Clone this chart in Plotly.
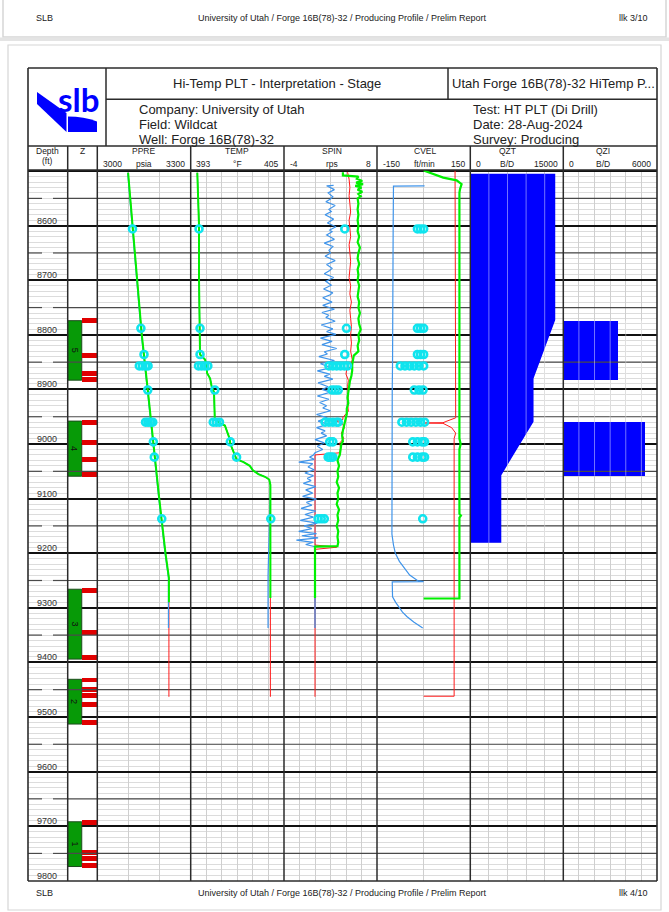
import plotly.graph_objects as go

# ------------------------------------------------------------------ page geometry (pixels)
W, H = 669, 912


def fx(p):
    return p / W


def fy(p):
    return 1.0 - p / H


# ------------------------------------------------------------------ depth frame
DEPTH_TOP = 8498.0
DEPTH_BOT = 9800.5
LOG_TOP_PX, LOG_BOT_PX = 170.0, 881.0
depth_labels = [8600, 8700, 8800, 8900, 9000, 9100, 9200, 9300, 9400, 9500, 9600, 9700, 9800]
half_marks = [8550, 8650, 8750, 8850, 8950, 9050, 9150, 9250, 9350, 9450, 9550, 9650, 9750]

# ------------------------------------------------------------------ completion (Z track)
zone_names = ["5", "4", "3", "2", "1"]
zone_top = [8774, 8958, 9266, 9431, 9692]
zone_bot = [8883, 9059, 9394, 9513, 9774]
perf_top = [8770, 8833, 8866, 8877, 8956, 8993, 9024, 9052, 9264, 9341, 9387,
            9428, 9446, 9457, 9472, 9505, 9689, 9744, 9755, 9767]
perf_bot = [8778, 8842, 8875, 8886, 8966, 9002, 9033, 9061, 9272, 9350, 9396,
            9436, 9454, 9466, 9481, 9515, 9698, 9753, 9763, 9777]

# ------------------------------------------------------------------ pressure (psia)
ppre_depth = [8503, 8600, 8700, 8800, 8900, 9000, 9100, 9200, 9245]
ppre_green = [3099, 3113, 3127, 3143, 3162, 3180, 3199, 3219, 3230]
ppre_green_end = 9290
ppre_blue_end = 9337
ppre_red_end = 9463

# ------------------------------------------------------------------ temperature (degF)
temp_depth = [8503, 8600, 8700, 8780, 8836, 8845, 8857, 8870, 8880, 8895, 8905,
              8955, 8962, 8966, 8990, 9000, 9015, 9024, 9028, 9033, 9040, 9048,
              9055, 9060, 9065, 9075]
temp_green = [393.85, 394.07, 394.07, 394.1, 394.2, 394.84, 395.06, 395.1, 395.5,
              395.7, 396.0, 396.1, 396.8, 397.4, 398.0, 398.1, 398.5, 398.7, 398.9,
              399.8, 400.6, 401.0, 401.7, 402.55, 403.1, 403.25]
temp_green_end = 9282
temp_blue_end = 9337
temp_red_end = 9463

# ------------------------------------------------------------------ spinner (rps)
spin_green_depth = [8502, 8508, 8510, 8514, 8518, 8521, 8524, 8527, 8530, 8534, 8538,
                    8542, 8546, 8550, 8560, 8570, 8580, 8590, 8600, 8610, 8620, 8630,
                    8640, 8650, 8660, 8670, 8680, 8690, 8700, 8710, 8720, 8730, 8740,
                    8750, 8760, 8770, 8780, 8790, 8800, 8810, 8820, 8830, 8838, 8845,
                    8855, 8865, 8875, 8885, 8895, 8905, 8915, 8925, 8935, 8945, 8955,
                    8965, 8975, 8985, 8995, 9000, 9010, 9020, 9026, 9030, 9040, 9050,
                    9060, 9070, 9080, 9090, 9100, 9110, 9120, 9130, 9140, 9150, 9160,
                    9170, 9180, 9187, 9188, 9282]
spin_green = [3.6, 3.6, 5.6, 5.4, 6.1, 5.3, 6.2, 5.2, 6.0, 5.5, 6.1,
              5.6, 5.9, 5.5, 5.6, 5.5, 5.6, 5.5, 5.6, 5.5, 5.7, 5.5,
              5.8, 5.6, 5.5, 5.7, 5.5, 5.6, 5.5, 5.7, 5.6, 5.5, 5.7,
              5.6, 5.8, 5.6, 5.7, 5.9, 5.6, 5.7, 5.5, 5.6, 5.0, 4.9,
              4.8, 4.8, 4.7, 4.5, 4.4, 4.3, 4.2, 4.3, 4.1, 4.1, 3.9,
              3.7, 3.6, 3.5, 3.6, 3.4, 3.3, 3.2, 3.0, 2.9, 3.1, 2.9,
              3.0, 2.8, 3.1, 2.9, 3.0, 2.8, 3.1, 2.9, 3.0, 2.8, 3.0,
              2.9, 3.0, 2.9, 0.0, 0.0]

spin_red_depth = [8502, 8515, 8530, 8545, 8560, 8575, 8590, 8605, 8620, 8635, 8650,
                  8665, 8680, 8695, 8710, 8725, 8740, 8755, 8770, 8785, 8800, 8815,
                  8830, 8845, 8858, 8862, 8872, 8883, 8895, 8910, 8925, 8940, 8951,
                  8955, 8957, 8962, 8970, 8980, 8990, 8998, 9008, 9016, 9018, 9020,
                  9185, 9189, 9193, 9463]
spin_red = [4.2, 4.4, 4.5, 4.4, 4.5, 4.6, 4.4, 4.5, 4.6, 4.4, 4.5,
            4.6, 4.5, 4.4, 4.6, 4.5, 4.7, 4.5, 4.6, 4.7, 4.6, 4.7,
            4.6, 4.8, 4.7, 4.1, 4.0, 4.3, 4.2, 4.3, 4.2, 4.3, 3.6,
            3.6, 2.6, 3.5, 3.8, 3.4, 3.7, 3.2, 3.3, 3.2, 1.7, 0.0,
            0.0, 2.8, 0.0, 0.0]

spin_blue_depth = [8526, 8527, 8534, 8540, 8547, 8551, 8556, 8563, 8570, 8574, 8580,
                   8588, 8595, 8602, 8608, 8611, 8617, 8625, 8632, 8638, 8645, 8650,
                   8656, 8664, 8671, 8678, 8682, 8688, 8695, 8702, 8709, 8716, 8723,
                   8727, 8732, 8740,
                   8746, 8753, 8759, 8764, 8768, 8775, 8782, 8789, 8794, 8799, 8806,
                   8812, 8818, 8825, 8831, 8835, 8840, 8847,
                   8853, 8860, 8866, 8872, 8876, 8881, 8888, 8895, 8900, 8905, 8912,
                   8918, 8924, 8930, 8934, 8939, 8946, 8952, 8958,
                   8964, 8970, 8976, 8980, 8985, 8992, 8998, 9004, 9010, 9016,
                   9020, 9024, 9028, 9033, 9036, 9042, 9047, 9053, 9058, 9063, 9067,
                   9072, 9078, 9084, 9090, 9096, 9101, 9107, 9112, 9118, 9123, 9129,
                   9134, 9140, 9145, 9150, 9155, 9160, 9164, 9168, 9172, 9176, 9180,
                   9184, 9188, 9337]
spin_blue = [2.4, 1.5, 2.5, 1.7, 2.3, 2.0, 1.4, 2.6, 1.8, 2.1, 1.3,
             2.4, 1.6, 2.7, 1.9, 2.2, 1.5, 2.5, 1.2, 2.3, 1.8, 2.0,
             1.3, 2.6, 1.5, 2.2, 1.9, 1.2, 2.4, 1.4, 2.1, 1.1, 2.3,
             1.9, 1.0, 2.2,
             1.0, 2.5, 0.9, 1.8, 1.4, 2.6, 0.8, 2.3, 1.5, 2.7, 0.7,
             2.2, 0.9, 2.8, 1.2, 1.6, 0.5, 2.5,
             0.7, 2.1, 0.3, 1.9, 1.2, 2.3, 0.4, 1.7, 0.9, 2.0, 0.3,
             1.8, 0.6, 1.5, 1.0, 2.0, 0.2, 1.6, 0.4,
             1.7, 0.2, 1.3, 0.8, 1.5, 0.0, 1.2, 0.3, 1.0, 0.0,
             -0.2, -0.7, -0.1, -2.1, -0.3, -0.9, -0.1, -1.3, -0.2, -1.0, -0.5,
             -1.5, 0.1, -1.2, -0.3, -1.6, 0.2, -1.1, -0.4, -1.8, 0.1, -1.3,
             -0.2, -1.9, 0.3, -1.4, -0.4, -2.1, 0.2, -1.7, 0.4, -2.4, -0.2,
             -1.2, 0.0, 0.0]
spin_zero_depth = [9017, 9337]
spin_zero = [0.0, 0.0]

# ------------------------------------------------------------------ cable velocity (ft/min)
cvel_green_depth = [8499, 8503, 8512, 8517, 8524, 8533, 8540, 8990, 9000, 9010, 9128,
                    9131, 9135, 9283, 9283]
cvel_green = [0, 20, 63, 106, 122, 117, 115, 115, 119, 115, 115, 120, 115, 115, 0]

cvel_red_depth = [8499, 8952, 8958, 8961, 8961.5, 8962, 8970, 8980, 8990, 9462, 9462]
cvel_red = [101, 103, 75, 62, 5, 62, 90, 103, 98, 98, 0]

cvel_blue_depth = [8527, 8527.5, 8600, 8700, 8800, 8850, 8900, 9000, 9100, 9150, 9165,
                   9185, 9200, 9215, 9225, 9240, 9250, 9252, 9252.5, 9265, 9280, 9290,
                   9298, 9308, 9316, 9326, 9337]
cvel_blue = [3, -97, -98, -98, -99, -100, -101, -101, -101, -102, -102,
             -97, -91, -78, -65, -45, -20, 0, -101, -101, -100, -90,
             -81, -68, -54, -32, -3]

# ------------------------------------------------------------------ flow profiles (B/D)
qzt_depth = [8505, 8773, 8880, 8959, 9057, 9181]
qzt_rate = [13700, 13700, 10200, 10200, 5000, 5000]
qzi_top = [8774, 8960]
qzi_bot = [8883, 9058]
qzi_rate = [3500, 5200]

# ------------------------------------------------------------------ station readings
ppre_st_depth = [8606, 8788, 8836, 8857, 8857, 8857, 8857, 8901, 8960, 8960, 8960, 8960,
                 8996, 9024, 9137]
ppre_st = [3113, 3140, 3150, 3135, 3145, 3155, 3163, 3162, 3155, 3163, 3171, 3178,
           3180, 3183, 3207]
temp_st_depth = [8606, 8788, 8836, 8857, 8857, 8857, 8857, 8901, 8960, 8960, 8960,
                 8996, 9024, 9137]
temp_st = [394.07, 394.2, 394.2, 394.0, 394.4, 394.8, 395.2, 396.1, 395.9, 396.3, 396.7,
           398.1, 398.9, 403.3]
spin_st_depth = [8606, 8788, 8836, 8857, 8857, 8857, 8857, 8857, 8857, 8901, 8901, 8901,
                 8960, 8960, 8960, 8960, 8960, 8996, 8996, 9024, 9024, 9024, 9137, 9137,
                 9137]
spin_st = [3.84, 4.06, 3.84, 1.8, 2.3, 2.8, 3.3, 3.8, 4.2, 2.2, 2.6, 3.0,
           1.3, 1.8, 2.3, 2.8, 3.0, 1.9, 2.3, 1.7, 2.0, 2.3, 0.4, 0.8, 1.2]
cvel_st_depth = [8606, 8606, 8606, 8788, 8788, 8788, 8836, 8836, 8836,
                 8857, 8857, 8857, 8857, 8857, 8857, 8901, 8901, 8901,
                 8960, 8960, 8960, 8960, 8960, 8960, 8996, 8996, 8996, 8996,
                 9024, 9024, 9024, 9024, 9137]
cvel_st = [-20, -10, 0, -20, -10, 0, -20, -10, 0,
           -75, -60, -45, -30, -15, 0, -30, -15, -2,
           -70, -55, -40, -25, -10, 3, -35, -20, -5, 3,
           -35, -20, -5, 3, -3]

# ------------------------------------------------------------------ styling
GREEN = "#00f000"
RED = "#ff1a1a"
BLUE = "#3f94ea"
CYAN = "#10e4ee"
FILL_BLUE = "#0000ff"
FONT = "Liberation Sans, Arial, sans-serif"
INK = "#222222"

tracks = [
    dict(key="DEPTH", l=28.0, r=67.7, rng=(0, 1), div=0),
    dict(key="Z", l=67.7, r=97.3, rng=(0, 1), div=0),
    dict(key="PPRE", l=97.3, r=190.7, rng=(3000, 3300), unit="psia", lo="3000", hi="3300", div=3),
    dict(key="TEMP", l=190.7, r=284.0, rng=(393, 405), unit="°F", lo="393", hi="405", div=6),
    dict(key="SPIN", l=284.0, r=377.0, rng=(-4, 8), unit="rps", lo="-4", hi="8", div=6),
    dict(key="CVEL", l=377.0, r=470.3, rng=(-150, 150), unit="ft/min", lo="-150", hi="150", div=2),
    dict(key="QZT", l=470.3, r=563.3, rng=(0, 15000), unit="B/D", lo="0", hi="15000", div=5),
    dict(key="QZI", l=563.3, r=657.0, rng=(0, 6000), unit="B/D", lo="0", hi="6000", div=6),
]
idx = {t["key"]: i + 1 for i, t in enumerate(tracks)}


def xr(i):
    return "x" if i == 1 else f"x{i}"


def yr(i):
    return "y" if i == 1 else f"y{i}"


fig = go.Figure()
layout = dict(
    width=W, height=H,
    margin=dict(l=0, r=0, t=0, b=0),
    paper_bgcolor="white", plot_bgcolor="rgba(0,0,0,0)",
    showlegend=False,
    font=dict(family=FONT, color=INK),
    barmode="overlay", bargap=0,
)

MAJOR = dict(showgrid=True, tick0=0, dtick=100, gridcolor="#111111", gridwidth=2)
MINOR = dict(dtick=10, tick0=0, showgrid=True, gridcolor="#dcdcdc", gridwidth=1)

for i, t in enumerate(tracks, 1):
    xname = "xaxis" if i == 1 else f"xaxis{i}"
    yname = "yaxis" if i == 1 else f"yaxis{i}"
    lo, hi = t["rng"]
    layout[xname] = dict(
        domain=[fx(t["l"]), fx(t["r"])], range=[lo, hi], anchor=yr(i),
        showgrid=t["div"] > 0, tick0=lo, dtick=(hi - lo) / max(t["div"], 1),
        gridcolor="#cfcfcf", gridwidth=1, zeroline=False,
        showticklabels=False, ticks="", showline=False, fixedrange=True,
    )
    yax = dict(
        domain=[fy(LOG_BOT_PX), fy(LOG_TOP_PX)], range=[DEPTH_BOT, DEPTH_TOP],
        anchor=xr(i), zeroline=False, showticklabels=False, ticks="",
        showline=False, fixedrange=True, **MAJOR,
    )
    if t["key"] != "Z":
        yax["minor"] = MINOR
    layout[yname] = yax

fig.update_layout(**layout)

shapes = []
annotations = []


def line_px(x0, y0, x1, y1, color="#333333", width=1.5):
    shapes.append(dict(type="line", xref="paper", yref="paper",
                       x0=fx(x0), y0=fy(y0), x1=fx(x1), y1=fy(y1),
                       line=dict(color=color, width=width), layer="above"))


def text_px(x, y, s, size=9, anchor="center", color=INK):
    annotations.append(dict(xref="paper", yref="paper", x=fx(x), y=fy(y), text=s,
                            showarrow=False, xanchor=anchor, yanchor="middle",
                            font=dict(size=size, color=color, family=FONT)))


def path_px(cmds, color):
    """Filled path from pixel coordinates; each command is (op, point, ...)."""
    parts = []
    for c in cmds:
        op, pts = c[0], c[1:]
        parts.append(op + " " + " ".join(f"{fx(a):.5f},{fy(b):.5f}" for a, b in pts))
    shapes.append(dict(type="path", xref="paper", yref="paper", path=" ".join(parts) + " Z",
                       fillcolor=color, line=dict(width=0), layer="above"))


def add_curve(key, xs, ys, color, width):
    i = idx[key]
    fig.add_trace(go.Scatter(x=xs, y=ys, xaxis=xr(i), yaxis=yr(i), mode="lines",
                             line=dict(color=color, width=width), hoverinfo="skip"))


def add_stations(key, xs, ys):
    i = idx[key]
    fig.add_trace(go.Scatter(x=xs, y=ys, xaxis=xr(i), yaxis=yr(i), mode="markers",
                             marker=dict(symbol="circle-open", size=7, color=CYAN,
                                         line=dict(width=2.6, color=CYAN)),
                             hoverinfo="skip", cliponaxis=False))


# ---------------- 50 ft lines in the data tracks (kept under the flow fills)
for i, t in enumerate(tracks[1:], 2):
    lo, hi = t["rng"]
    xs, ys = [], []
    for d in half_marks:
        xs += [lo, hi, None]
        ys += [d, d, None]
    fig.add_trace(go.Scatter(x=xs, y=ys, xaxis=xr(i), yaxis=yr(i), mode="lines",
                             line=dict(color="#4a4a4a", width=1.2), hoverinfo="skip"))

# depth column: split 50 ft marks and the depth labels
for d in half_marks:
    for a, b in ((28.0, 42.0), (53.0, 67.7)):
        shapes.append(dict(type="line", xref="paper", yref="y", x0=fx(a), x1=fx(b),
                           y0=d, y1=d, line=dict(color="#4a4a4a", width=1.2), layer="above"))
for d in depth_labels:
    annotations.append(dict(xref="paper", yref="y", x=fx(58.8), y=d, text=str(d),
                            showarrow=False, xanchor="right", yanchor="bottom", yshift=-2,
                            font=dict(size=9, color="#333333", family=FONT)))

# ---------------- Z track: zones and perforations
zi = idx["Z"]
fig.add_trace(go.Bar(
    orientation="h", x=[0.475] * len(zone_top), base=0,
    y=[(a + b) / 2 for a, b in zip(zone_top, zone_bot)],
    width=[b - a for a, b in zip(zone_top, zone_bot)],
    marker=dict(color="#079a07", line=dict(color="#1d4d1d", width=1)),
    xaxis=xr(zi), yaxis=yr(zi), hoverinfo="skip"))
fig.add_trace(go.Bar(
    orientation="h", x=[0.51] * len(perf_top), base=0.49,
    y=[(a + b) / 2 for a, b in zip(perf_top, perf_bot)],
    width=[b - a for a, b in zip(perf_top, perf_bot)],
    marker=dict(color="#e00000", line=dict(width=0)),
    xaxis=xr(zi), yaxis=yr(zi), hoverinfo="skip"))
for name, a, b in zip(zone_names, zone_top, zone_bot):
    annotations.append(dict(xref=xr(zi), yref=yr(zi), x=0.237, y=(a + b) / 2, text=name,
                            showarrow=False, textangle=90,
                            font=dict(size=9, color="#111111", family=FONT)))

# ---------------- PPRE
add_curve("PPRE", ppre_green + [ppre_green[-1]], ppre_depth + [ppre_red_end], RED, 1)
add_curve("PPRE", [v - 1.5 for v in ppre_green] + [ppre_green[-1] - 1.5],
          ppre_depth + [ppre_blue_end], BLUE, 1.2)
add_curve("PPRE", ppre_green + [ppre_green[-1]], ppre_depth + [ppre_green_end], GREEN, 2)
add_stations("PPRE", ppre_st, ppre_st_depth)

# ---------------- TEMP
add_curve("TEMP", temp_green + [temp_green[-1]], temp_depth + [temp_red_end], RED, 1)
add_curve("TEMP", temp_green + [temp_green[-1] - 0.3, temp_green[-1] - 0.3],
          temp_depth + [9240, temp_blue_end], BLUE, 1.2)
add_curve("TEMP", temp_green + [temp_green[-1]], temp_depth + [temp_green_end], GREEN, 2)
add_stations("TEMP", temp_st, temp_st_depth)

# ---------------- SPIN
add_curve("SPIN", spin_zero, spin_zero_depth, "#9cc2ee", 1.2)
add_curve("SPIN", spin_red, spin_red_depth, RED, 1)
add_curve("SPIN", spin_blue, spin_blue_depth, BLUE, 1.2)
add_curve("SPIN", spin_green, spin_green_depth, GREEN, 2.2)
add_stations("SPIN", spin_st, spin_st_depth)

# ---------------- CVEL
add_curve("CVEL", cvel_red, cvel_red_depth, RED, 1)
add_curve("CVEL", cvel_blue, cvel_blue_depth, BLUE, 1.2)
add_curve("CVEL", cvel_green, cvel_green_depth, GREEN, 2.2)
add_stations("CVEL", cvel_st, cvel_st_depth)

# ---------------- QZT / QZI
qi = idx["QZT"]
fig.add_trace(go.Scatter(x=[0] + qzt_rate + [0], y=[qzt_depth[0]] + qzt_depth + [qzt_depth[-1]],
                         xaxis=xr(qi), yaxis=yr(qi), mode="lines", fill="toself",
                         fillcolor=FILL_BLUE, line=dict(width=0, color=FILL_BLUE),
                         hoverinfo="skip"))
zi2 = idx["QZI"]
fig.add_trace(go.Bar(orientation="h", x=qzi_rate, base=0,
                     y=[(a + b) / 2 for a, b in zip(qzi_top, qzi_bot)],
                     width=[b - a for a, b in zip(qzi_top, qzi_bot)],
                     marker=dict(color=FILL_BLUE, line=dict(width=0)),
                     xaxis=xr(zi2), yaxis=yr(zi2), hoverinfo="skip"))
# vertical scale lines stay visible across the filled flow profiles
for key, top, bot in (("QZT", qzt_depth[0], qzt_depth[-1]), ("QZI", qzi_top[0], qzi_bot[-1])):
    i = idx[key]
    lo, hi = tracks[i - 1]["rng"]
    n = tracks[i - 1]["div"]
    for k in range(1, n):
        v = lo + (hi - lo) * k / n
        shapes.append(dict(type="line", xref=xr(i), yref=yr(i), x0=v, x1=v, y0=top, y1=bot,
                           line=dict(color="rgba(255,255,255,0.45)", width=1), layer="above"))

# ---------------- frame and track separators
FR = "#2b2b2b"
line_px(28, 68, 657, 68, FR, 1.6)
line_px(28, 881, 657, 881, FR, 1.6)
line_px(28, 68, 28, 881, FR, 1.6)
line_px(657, 68, 657, 881, FR, 1.6)
for t in tracks[1:]:
    line_px(t["l"], 146, t["l"], 881, FR, 1.5)
line_px(28, 146, 657, 146, FR, 1.5)
line_px(28, 170, 657, 170, FR, 1.5)
line_px(106, 99.3, 657, 99.3, FR, 1.5)
line_px(106, 68, 106, 146, FR, 1.5)
line_px(448, 68, 448, 99.3, FR, 1.5)

# ---------------- header texts
text_px(277, 84, "Hi-Temp PLT - Interpretation - Stage", size=13)
text_px(450, 84, "Utah Forge 16B(78)-32 HiTemp P...", size=13, anchor="left")
for k, s in enumerate(["Company: University of Utah", "Field: Wildcat", "Well: Forge 16B(78)-32"]):
    text_px(136.5, 110 + 14.6 * k, s, size=13, anchor="left")
for k, s in enumerate(["Test: HT PLT (Di Drill)", "Date: 28-Aug-2024", "Survey: Producing"]):
    text_px(470.5, 110 + 14.6 * k, s, size=13, anchor="left")

text_px(47.5, 151, "Depth", size=8.5)
text_px(47.5, 161, "(ft)", size=8.5)
text_px(82, 151, "Z", size=8.5)


def label_w(s, size=8.5):
    return sum(0.333 if c == "-" else 0.556 for c in s) * size


for t in tracks[2:]:
    left = t["l"] + 3.6
    right = t["r"] - 3.8
    mid = (left + label_w(t["lo"]) + right - label_w(t["hi"])) / 2
    text_px(mid, 151, t["key"], size=8.5)
    text_px(mid, 164, t["unit"], size=8.5)
    text_px(left, 164, t["lo"], size=8.5, anchor="left")
    text_px(right, 164, t["hi"], size=8.5, anchor="right")

# ---------------- logo
path_px([("M", (37, 92)), ("L", (66.5, 113)), ("L", (66.5, 132)), ("L", (37, 104))], FILL_BLUE)
annotations.append(dict(xref="paper", yref="paper", x=fx(78.5), y=fy(99), text="<b>slb</b>",
                        showarrow=False, font=dict(size=33, color=FILL_BLUE, family="Lato"),
                        xanchor="center", yanchor="middle"))
path_px([("M", (68, 116.5)), ("Q", (84, 116.5), (97, 121.5)), ("L", (97, 132)),
         ("L", (68, 132))], FILL_BLUE)

# ---------------- page furniture
shapes.append(dict(type="rect", xref="paper", yref="paper", x0=fx(3), x1=fx(666),
                   y0=fy(37), y1=fy(-2), line=dict(color="#d6d6d6", width=1.5), layer="below"))
shapes.append(dict(type="rect", xref="paper", yref="paper", x0=fx(0), x1=fx(669),
                   y0=fy(41), y1=fy(37.5), fillcolor="#e4e4e4", line=dict(width=0), layer="below"))
shapes.append(dict(type="rect", xref="paper", yref="paper", x0=fx(8), x1=fx(661),
                   y0=fy(910), y1=fy(45), line=dict(color="#d6d6d6", width=1.2), layer="below"))
for y, page in ((18, "llk 3/10"), (893, "llk 4/10")):
    text_px(34, y, "SLB", size=9, anchor="left")
    text_px(342, y, "University of Utah / Forge 16B(78)-32 / Producing Profile / Prelim Report",
            size=9)
    text_px(650, y, page, size=9, anchor="right")

fig.update_layout(shapes=shapes, annotations=annotations)
fig.write_html("out.html", include_plotlyjs=True, config={"staticPlot": True})
